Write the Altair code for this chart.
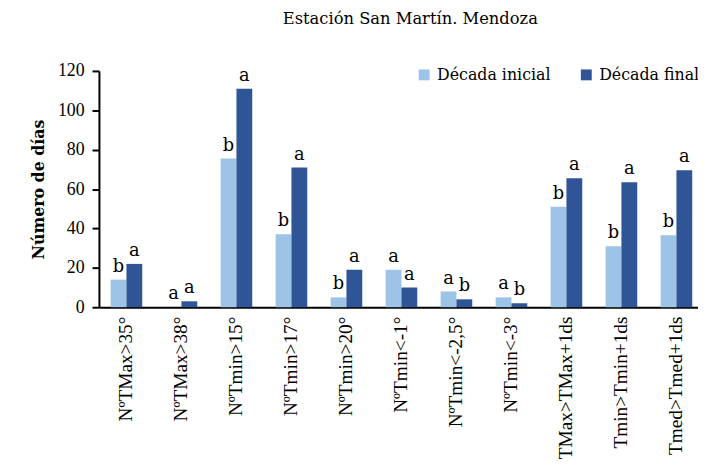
import altair as alt
import pandas as pd

categories = ["NºTMax>35°", "NºTMax>38°", "NºTmin>15°", "NºTmin>17°", "NºTmin>20°",
              "NºTmin<-1°", "NºTmin<-2,5°", "NºTmin<-3°", "TMax>TMax+1ds",
              "Tmin>Tmin+1ds", "Tmed>Tmed+1ds"]
inicial = [14, 0, 75.5, 37, 5, 19, 8, 5, 51, 31, 36.5]
final = [22, 3, 111, 71, 19, 10, 4, 2, 65.5, 63.5, 69.5]
letras_inicial = ["b", "a", "b", "b", "b", "a", "a", "a", "b", "b", "b"]
letras_final = ["a", "a", "a", "a", "a", "a", "b", "b", "a", "a", "a"]
series = ["Década inicial", "Década final"]
colors = ["#9DC3E6", "#2F5597"]

rows = []
for c, v1, v2, l1, l2 in zip(categories, inicial, final, letras_inicial, letras_final):
    rows.append({"cat": c, "serie": series[0], "val": v1, "letra": l1})
    rows.append({"cat": c, "serie": series[1], "val": v2, "letra": l2})
df = pd.DataFrame(rows)

SERIF = "Liberation Serif"
CAMB = "DejaVu Serif"

x = alt.X("cat:N", sort=categories,
          scale=alt.Scale(paddingInner=0.425, paddingOuter=0.2125, range=[0, 612]),
          axis=alt.Axis(title=None, labelAngle=270, labelAlign="right", labelBaseline="middle",
                        labelFont=SERIF, labelFontSize=19.5, labelColor="black", labelPadding=9,
                        ticks=False, domainColor="black", domainWidth=2, labelLimit=300))
xo = alt.XOffset("serie:N", sort=series, scale=alt.Scale(paddingInner=0, paddingOuter=0))
y = alt.Y("val:Q", scale=alt.Scale(domain=[0, 120]),
          axis=alt.Axis(title="Número de días", values=[0, 20, 40, 60, 80, 100, 120],
                        grid=False, labelFont=SERIF, labelFontSize=18, labelColor="black",
                        tickColor="black", tickWidth=2, tickSize=7, labelPadding=8,
                        domainColor="black", domainWidth=2,
                        titleFont=CAMB, titleFontSize=16, titleFontWeight="bold",
                        titleColor="black", titlePadding=11))

bars = alt.Chart(df).mark_bar().encode(
    x=x, xOffset=xo, y=y,
    color=alt.Color("serie:N", sort=series,
                    scale=alt.Scale(domain=series, range=colors),
                    legend=alt.Legend(title=None, orient="none", legendX=321, legendY=-4,
                                      direction="horizontal", symbolType="square",
                                      symbolSize=121, symbolStrokeWidth=0,
                                      labelFont=CAMB, labelFontSize=16, labelColor="black",
                                      labelOffset=5, columnPadding=28, padding=0))
)

texts = alt.Chart(df).mark_text(baseline="bottom", dy=-4, font=CAMB, fontSize=18,
                                color="black").encode(
    x=x, xOffset=xo, y=y, text="letra:N")

chart = alt.layer(bars, texts).properties(
    width=606, height=239,
    title=alt.TitleParams("Estación San Martín. Mendoza", font=CAMB, fontSize=16.5,
                          fontWeight="normal", color="black", anchor="middle", offset=35,
                          dx=12),
    autosize=alt.AutoSizeParams(type="none"),
    padding={"left": 92, "top": 61, "right": 0, "bottom": 160},
).configure_view(stroke=None)

chart.save("out.html", embed_options={"renderer": "svg", "actions": False})
